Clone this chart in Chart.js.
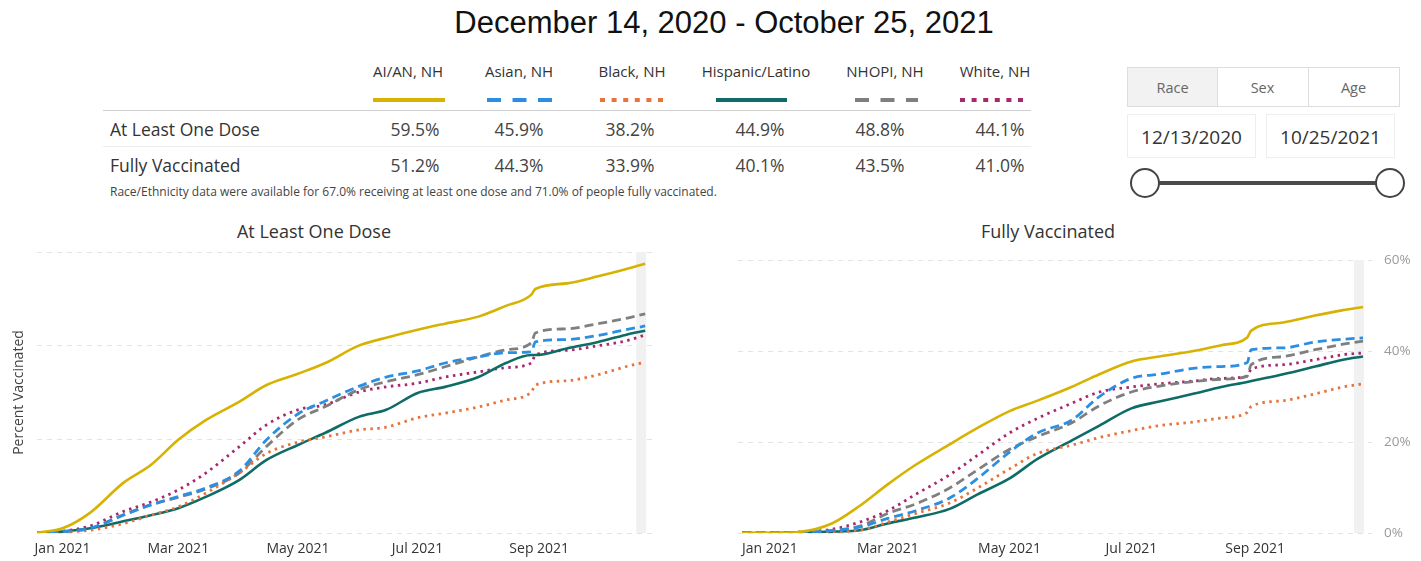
<!DOCTYPE html>
<html><head><meta charset="utf-8">
<script src="https://cdn.jsdelivr.net/npm/chart.js@4.4.1/dist/chart.umd.min.js"></script>
<style>
body{margin:0;background:#fff;width:1421px;height:561px;overflow:hidden;position:relative;font-family:"Open Sans",sans-serif;color:#333}
.abs{position:absolute;white-space:nowrap}
#mainTitle{left:0;top:5px;width:1448px;text-align:center;font-family:"Liberation Sans",Arial,sans-serif;font-size:31px;color:#111}
.ctitle{font-size:18px;color:#333;text-align:center;width:300px}
.hdr{font-size:15px;color:#333;text-align:center;width:160px}
.val{font-size:17.5px;color:#444;text-align:center;width:120px}
.rowlab{font-size:17.5px;color:#333}
.sep{height:1px;background:#d0d0d0}
#note{font-size:12px;color:#444}
.tab{top:67px;height:40px;line-height:40px;border:1px solid #ddd;text-align:center;font-size:14.5px;color:#666;box-sizing:border-box}
.datebox{top:114px;height:44px;line-height:44px;border:1px solid #eee;text-align:center;font-size:19px;color:#333;box-sizing:border-box}
canvas{position:absolute}
</style></head><body>
<div id="mainTitle" class="abs">December 14, 2020 - October 25, 2021</div>
<div id="table"></div>
<div class="abs" id="note" style="left:110px;top:183px">Race/Ethnicity data were available for 67.0% receiving at least one dose and 71.0% of people fully vaccinated.</div>

<div class="abs tab" style="left:1127px;width:91px;background:#f2f2f2">Race</div>
<div class="abs tab" style="left:1217px;width:92px;border-left:none">Sex</div>
<div class="abs tab" style="left:1308px;width:92px;border-left:none">Age</div>
<div class="abs datebox" style="left:1127px;width:129px">12/13/2020</div>
<div class="abs datebox" style="left:1266px;width:129px">10/25/2021</div>
<svg class="abs" style="left:1120px;top:160px" width="300" height="48">
  <line x1="25" y1="23" x2="270" y2="23" stroke="#4a4a4a" stroke-width="4"/>
  <circle cx="25" cy="23" r="14" fill="#fff" stroke="#444" stroke-width="2"/>
  <circle cx="270" cy="23" r="14" fill="#fff" stroke="#444" stroke-width="2"/>
</svg>

<div class="abs ctitle" style="left:164px;top:219px">At Least One Dose</div>
<div class="abs ctitle" style="left:898px;top:219px">Fully Vaccinated</div>
<canvas id="c1" width="680" height="321" style="left:0;top:240px"></canvas>
<canvas id="c2" width="721" height="321" style="left:700px;top:240px"></canvas>

<script>
// ---------- data ----------
const groups = ['AI/AN, NH','Asian, NH','Black, NH','Hispanic/Latino','NHOPI, NH','White, NH'];
const oneDoseTotal = [59.5, 45.9, 38.2, 44.9, 48.8, 44.1];
const fullyTotal = [51.2, 44.3, 33.9, 40.1, 43.5, 41.0];

// days since Jan 1, 2021
const days = [-14, 0, 14, 31, 45, 59, 73, 90, 104, 120, 134, 151, 165, 181, 195, 212, 226, 239, 241, 257, 273, 287, 297];
const tickDays = [0, 59, 120, 181, 243];
const tickLabels = ['Jan 2021','Mar 2021','May 2021','Jul 2021','Sep 2021'];
const yTicks = [0, 20, 40, 60];

// At Least One Dose (%)
const aianOne   = [0, 1.0, 4.3, 10.7, 14.5, 19.9, 24.1, 28.0, 31.6, 34.0, 36.3, 40.0, 41.7, 43.4, 44.7, 46.2, 48.5, 50.9, 52.1, 53.3, 54.8, 56.3, 57.5];
const asianOne  = [0, 0.3, 1.0, 3.8, 6.0, 7.8, 9.6, 13.2, 19.9, 25.4, 28.2, 31.3, 33.3, 34.6, 36.3, 37.6, 38.5, 38.7, 40.8, 41.3, 42.2, 43.4, 44.2];
const blackOne  = [0, 0.2, 0.6, 2.0, 3.8, 5.6, 8.5, 12.8, 17.0, 19.4, 20.5, 22.0, 22.6, 24.6, 25.6, 26.9, 28.4, 30.1, 31.6, 32.5, 33.8, 35.5, 36.5];
const hispOne   = [0, 0.3, 1.0, 2.5, 3.8, 5.3, 7.7, 11.3, 15.6, 18.8, 21.4, 24.8, 26.3, 29.9, 31.2, 33.3, 36.3, 38.0, 38.0, 39.4, 40.8, 42.3, 43.2];
const nhopiOne  = [0, 0.3, 1.0, 3.9, 6.0, 7.6, 9.4, 12.8, 18.5, 24.2, 27.0, 30.6, 32.3, 33.8, 35.5, 37.6, 39.1, 40.6, 42.7, 43.6, 44.7, 45.8, 46.8];
const whiteOne  = [0, 0.4, 1.5, 4.6, 6.6, 9.2, 12.8, 18.4, 23.1, 26.3, 27.4, 30.1, 31.2, 32.0, 33.3, 34.4, 35.3, 36.3, 38.0, 39.0, 40.0, 41.0, 42.3];

// Fully Vaccinated (%)
const aianFull  = [0, 0, 0.2, 2.1, 6.0, 10.7, 15.0, 19.5, 23.1, 26.8, 29.1, 32.1, 34.9, 37.7, 38.8, 40.0, 41.3, 43.0, 44.5, 46.3, 47.8, 49.0, 49.7];
const asianFull = [0, 0, 0.1, 0.5, 1.3, 3.2, 4.9, 7.7, 12.0, 17.8, 22.0, 24.8, 30.0, 34.0, 34.9, 36.2, 36.6, 37.5, 40.3, 40.7, 42.0, 42.6, 42.9];
const blackFull = [0, 0, 0.1, 0.3, 0.6, 2.4, 4.3, 6.6, 9.9, 14.1, 17.5, 19.3, 21.0, 22.5, 23.6, 24.4, 25.3, 26.5, 27.8, 29.1, 30.6, 32.1, 32.8];
const hispFull  = [0, 0, 0.1, 0.3, 0.6, 2.1, 3.4, 5.3, 8.5, 12.0, 16.3, 20.3, 23.6, 27.4, 28.9, 30.6, 32.1, 33.2, 33.4, 34.9, 36.6, 38.1, 38.8];
const nhopiFull = [0, 0, 0.1, 0.5, 1.5, 4.3, 6.4, 9.9, 13.9, 18.4, 21.2, 24.2, 28.0, 31.0, 32.3, 33.3, 33.8, 34.5, 37.0, 38.8, 40.3, 41.5, 42.2];
const whiteFull = [0, 0, 0.2, 0.8, 2.4, 4.9, 8.5, 12.8, 17.1, 22.0, 25.2, 28.5, 31.0, 32.1, 32.8, 33.4, 34.0, 34.5, 36.0, 37.0, 38.1, 39.2, 39.6];

// ---------- styles ----------
const colors = ['#D7B200', '#2A8FE3', '#E8743B', '#0E6B66', '#7F7F7F', '#A8286F'];
const dashes = [[], [9,5], [2.5,4.5], [], [9,5], [2.5,4.5]];
const widths = [2.6, 2.8, 2.8, 2.6, 2.8, 2.8];
const legendDash = ['', '14 11.5', '5 6.6', '', '14 11.5', '5 6.6'];
const hdrX = [408, 519, 632, 756, 885, 995];
const valX = [415, 519, 630, 760, 880, 1000];
const swX = [[373,445],[487,552],[600,663],[716,787],[855,918],[960,1027]];

// ---------- table ----------
const tbl = document.getElementById('table');
let h = '';
groups.forEach((g,i)=>{
  h += `<div class="abs hdr" style="left:${hdrX[i]-80}px;top:61px">${g}</div>`;
  h += `<div class="abs val" style="left:${valX[i]-60}px;top:117px">${oneDoseTotal[i].toFixed(1)}%</div>`;
  h += `<div class="abs val" style="left:${valX[i]-60}px;top:153px">${fullyTotal[i].toFixed(1)}%</div>`;
});
let sv = '<svg class="abs" style="left:0;top:90px" width="1100" height="20">';
groups.forEach((g,i)=>{
  sv += `<line x1="${swX[i][0]}" y1="10" x2="${swX[i][1]}" y2="10" stroke="${colors[i]}" stroke-width="4" ${legendDash[i]?`stroke-dasharray="${legendDash[i]}"`:''}/>`;
});
sv += '</svg>';
h += sv;
h += '<div class="abs sep" style="left:103px;top:110px;width:928px"></div>';
h += '<div class="abs sep" style="left:103px;top:146px;width:928px;background:#ececec"></div>';
h += '<div class="abs rowlab" style="left:110px;top:117px">At Least One Dose</div>';
h += '<div class="abs rowlab" style="left:110px;top:153px">Fully Vaccinated</div>';
tbl.innerHTML = h;

// ---------- charts ----------
const bandPlugin = {
  id: 'band',
  beforeDatasetsDraw(chart){
    const {ctx, chartArea, scales} = chart;
    const x = scales.x.getPixelForValue(days[days.length-1]);
    ctx.save();
    ctx.fillStyle = '#f1f1f1';
    ctx.fillRect(x-9, chartArea.top, 10, chartArea.bottom - chartArea.top);
    ctx.restore();
  }
};

function makeDatasets(series){
  return series.map((s,i)=>({
    data: days.map((d,k)=>({x:d, y:s[k]})),
    borderColor: colors[i],
    borderWidth: widths[i],
    borderDash: dashes[i],
    pointRadius: 0,
    fill: false,
    cubicInterpolationMode: 'monotone'
  }));
}

function xScale(min, max){
  return {
    type: 'linear', min, max,
    afterBuildTicks(sc){ sc.ticks = tickDays.map(v=>({value:v})); },
    afterFit(sc){ sc.height = 28; },
    ticks: { autoSkip:false, maxRotation:0, padding:8, color:'#333', font:{size:14, family:"'Open Sans'"},
      callback(v){ const i = tickDays.indexOf(v); return i>=0 ? tickLabels[i] : ''; } },
    grid: { display:false, drawTicks:false },
    border: { display:false }
  };
}

function common(){
  return {
    responsive:false, animation:false, devicePixelRatio:1,
    plugins:{ legend:{display:false}, tooltip:{enabled:false} }
  };
}

const o1 = common();
o1.layout = { padding:{ left:0, right:25, top:12, bottom:0 } };
o1.scales = {
  x: xScale(-13, 302),
  y: {
    min:0, max:60,
    afterBuildTicks(sc){ sc.ticks = yTicks.map(v=>({value:v})); },
    afterFit(sc){ sc.width = 37; },
    ticks:{ display:false },
    grid:{ color:'#e3e3e3', lineWidth:1, drawTicks:false },
    border:{ display:false, dash:[5,5] },
    title:{ display:true, text:'Percent Vaccinated', color:'#444', font:{size:14, family:"'Open Sans'"}, padding:{top:11,bottom:0} }
  }
};
new Chart(document.getElementById('c1'), {
  type:'line',
  data:{ datasets: makeDatasets([aianOne, asianOne, blackOne, hispOne, nhopiOne, whiteOne]) },
  options:o1, plugins:[bandPlugin]
});

const o2 = common();
o2.layout = { padding:{ left:38, right:0, top:12, bottom:0 } };
o2.scales = {
  x: xScale(-16, 301.5),
  y: {
    position:'right', min:0, max:60,
    afterBuildTicks(sc){ sc.ticks = yTicks.map(v=>({value:v})); },
    afterFit(sc){ sc.width = 49; },
    ticks:{ padding:12, color:'#9a9a9a', font:{size:13.5, family:"'Open Sans'"}, callback:v=>v+'%' },
    grid:{ color:'#e3e3e3', lineWidth:1, drawTicks:false },
    border:{ display:false, dash:[5,5] }
  }
};
new Chart(document.getElementById('c2'), {
  type:'line',
  data:{ datasets: makeDatasets([aianFull, asianFull, blackFull, hispFull, nhopiFull, whiteFull]) },
  options:o2, plugins:[bandPlugin]
});
</script>
</body></html>
